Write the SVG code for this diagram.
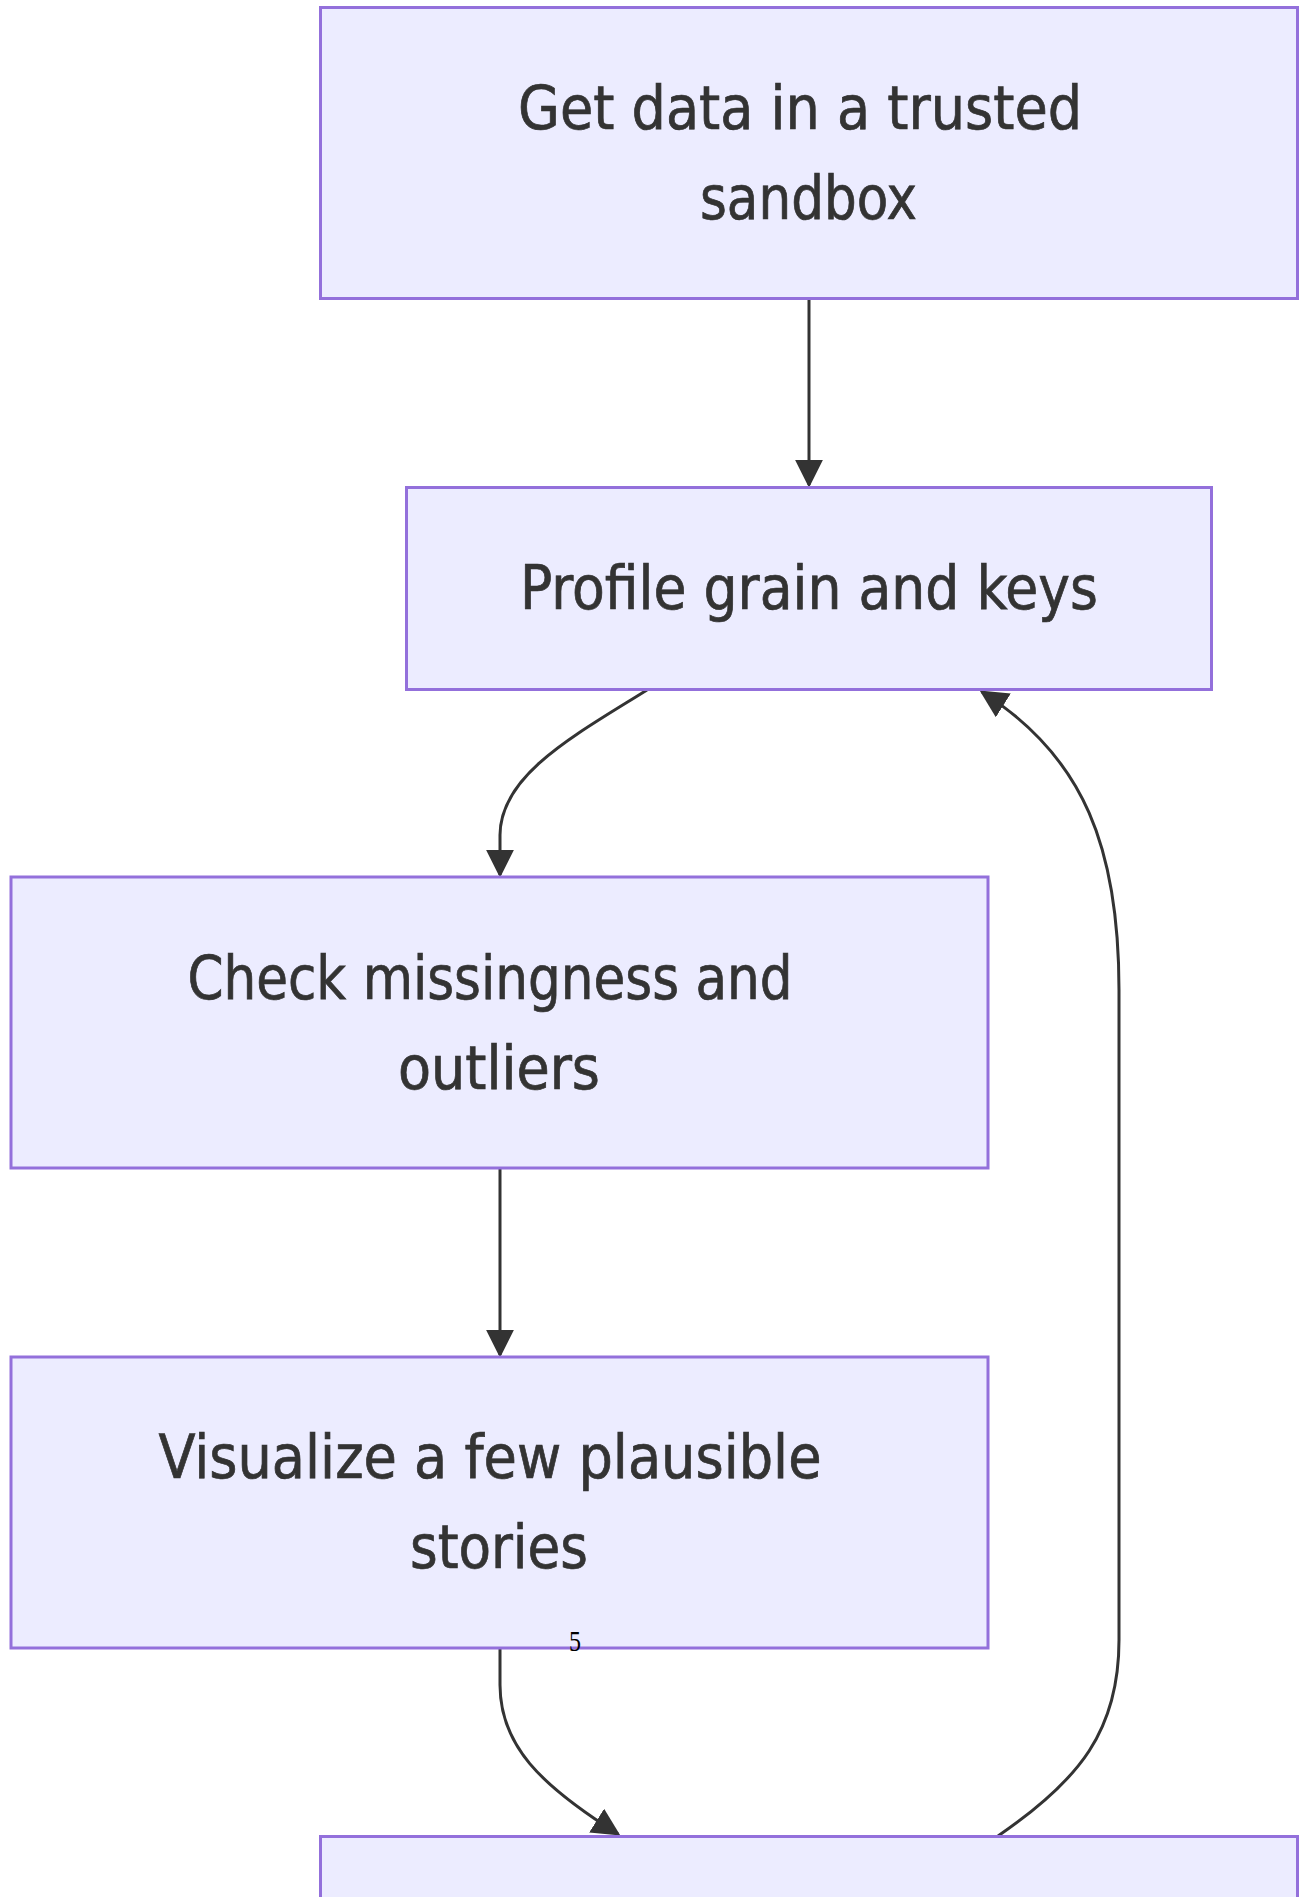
<svg xmlns="http://www.w3.org/2000/svg" width="1309" height="1897" viewBox="0 0 1309 1897">
<style>
.node rect{fill:#ECECFF;stroke:#9370DB;stroke-width:3}
.node text{font-family:"DejaVu Sans Condensed","DejaVu Sans",sans-serif;font-stretch:condensed;font-size:60px;fill:#333333;stroke:#333333;stroke-width:0.7;text-anchor:middle}
.edge{fill:none;stroke:#333333;stroke-width:3}
.lbl{font-family:"Liberation Serif",serif;font-size:30px;fill:#000;text-anchor:middle}
</style>
<defs>
<marker id="arr" viewBox="0 0 10 10" refX="9" refY="5" markerWidth="28" markerHeight="28" markerUnits="userSpaceOnUse" orient="auto">
<path d="M0,0 L10,5 L0,10 z" fill="#333333"/>
</marker>
</defs>
<g id="connectors">
<path class="edge" d="M809,299 L809,485" marker-end="url(#arr)"/>
<path class="edge" d="M647,690 C575,735 500,775 500,835 L500,875" marker-end="url(#arr)"/>
<path class="edge" d="M500,1169 L500,1355" marker-end="url(#arr)"/>
<path class="edge" d="M500,1648 L500,1685 C500,1745 540,1785 618,1834" marker-end="url(#arr)"/>
<path class="edge" d="M998,1836 C1080,1780 1119,1730 1119,1640 L1119,990 C1119,850 1085,757 982,692" marker-end="url(#arr)"/>
</g>
<g id="node1" class="node">
<rect x="320.5" y="7.5" width="977" height="291"/>
<text x="800" y="129" textLength="564" lengthAdjust="spacingAndGlyphs">Get data in a trusted</text>
<text x="808.5" y="219" textLength="217" lengthAdjust="spacingAndGlyphs">sandbox</text>
</g>
<g id="node2" class="node">
<rect x="406.5" y="487.5" width="805" height="202"/>
<text x="809" y="609" textLength="578" lengthAdjust="spacingAndGlyphs">Profile grain and keys</text>
</g>
<g id="node3" class="node">
<rect x="11" y="877" width="977" height="291"/>
<text x="490" y="999" textLength="605" lengthAdjust="spacingAndGlyphs">Check missingness and</text>
<text x="499" y="1089" textLength="202" lengthAdjust="spacingAndGlyphs">outliers</text>
</g>
<g id="node4" class="node">
<rect x="11" y="1357" width="977" height="291"/>
<text x="490" y="1478" textLength="663" lengthAdjust="spacingAndGlyphs">Visualize a few plausible</text>
<text x="499" y="1568" textLength="178" lengthAdjust="spacingAndGlyphs">stories</text>
</g>
<g id="node5" class="node">
<rect x="320.5" y="1836.5" width="977" height="291"/>
</g>
<text class="lbl" x="575" y="1651" textLength="12" lengthAdjust="spacingAndGlyphs">5</text>
</svg>
